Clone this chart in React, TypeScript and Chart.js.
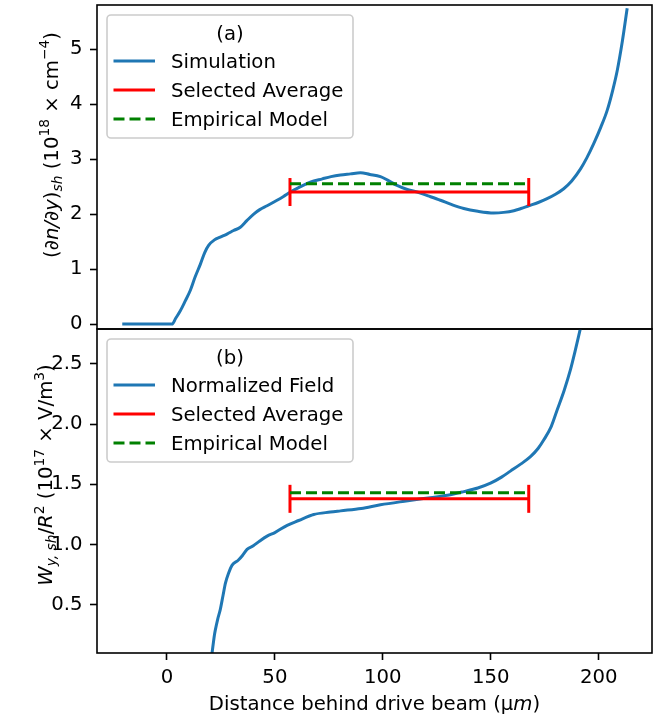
import React, { useEffect, useRef } from 'react';
import { Chart, registerables } from 'chart.js';

Chart.register(...registerables);

// ---------- data ----------
const simX = [-20.7, -10, 0, 2.4, 4, 6.2, 8.5, 10.8, 13, 15.5, 17.5, 19.3, 22, 24.7, 28, 30.9, 34, 37, 40.2, 43, 46.4, 51, 54, 57.2, 61, 66.4, 72, 76, 80.4, 85, 89.6, 94, 98.9, 102, 106.6, 111, 115.9, 121, 126.7, 132, 137.5, 144, 151.4, 156, 160.7, 164, 167.6, 172, 176.1, 180, 183.8, 187.5, 191.6, 194.5, 197.7, 201, 203.9, 206.5, 208.6, 211, 213.2];
const simY = [0, 0, 0, 0, 0.1, 0.24, 0.42, 0.61, 0.85, 1.09, 1.3, 1.43, 1.53, 1.58, 1.64, 1.7, 1.76, 1.88, 2.0, 2.08, 2.15, 2.25, 2.32, 2.4, 2.48, 2.58, 2.64, 2.68, 2.71, 2.73, 2.75, 2.72, 2.68, 2.62, 2.52, 2.45, 2.4, 2.33, 2.25, 2.17, 2.1, 2.05, 2.02, 2.03, 2.06, 2.1, 2.15, 2.21, 2.28, 2.36, 2.46, 2.6, 2.82, 3.02, 3.28, 3.58, 3.88, 4.25, 4.61, 5.15, 5.74];

const fieldX = [20.9, 22.0, 22.4, 23.5, 24.7, 26, 27.1, 28.5, 30.2, 33, 35, 37.1, 40, 43, 46.4, 50, 55.7, 61, 68, 75.7, 80.4, 90, 98.9, 110, 122, 130, 137.5, 144, 149.9, 155, 159.1, 164, 168.4, 172, 174.6, 178, 180.8, 184, 186.9, 189, 191.6];
const fieldY = [0.1, 0.25, 0.29, 0.38, 0.46, 0.58, 0.68, 0.76, 0.83, 0.87, 0.91, 0.96, 0.99, 1.03, 1.07, 1.1, 1.16, 1.2, 1.25, 1.27, 1.28, 1.3, 1.33, 1.36, 1.39, 1.41, 1.44, 1.47, 1.51, 1.56, 1.61, 1.67, 1.73, 1.8, 1.87, 1.98, 2.12, 2.28, 2.45, 2.6, 2.8];

const avgX = [57.0, 167.6];
const avgTop = 2.4;
const empTop = 2.55;
const avgBottom = 1.38;
const empBottom = 1.43;

const xRange = [-32.4, 224.7];
const xStep = 50;
const topYRange = [-0.09, 5.8];
const topYStep = 1;
const bottomYRange = [0.1, 2.79];
const bottomYStep = 0.5;

const topLabels = ['Simulation', 'Selected Average', 'Empirical Model'];
const bottomLabels = ['Normalized Field', 'Selected Average', 'Empirical Model'];
const topLegendTitle = '(a)';
const bottomLegendTitle = '(b)';

type Seg = { t: string; it?: boolean; sub?: boolean; sup?: boolean };
const topYTitle: Seg[] = [
  { t: '(' }, { t: '∂n/∂y', it: true }, { t: ')' }, { t: 'sh', it: true, sub: true },
  { t: ' (10' }, { t: '18', sup: true }, { t: ' × cm' }, { t: '−4', sup: true }, { t: ')' },
];
const bottomYTitle: Seg[] = [
  { t: 'W', it: true }, { t: 'y, sh', it: true, sub: true }, { t: '/' }, { t: 'R', it: true },
  { t: '2', sup: true }, { t: ' (10' }, { t: '17', sup: true }, { t: ' × V/m' }, { t: '3', sup: true }, { t: ')' },
];
const xTitle: Seg[] = [{ t: 'Distance behind drive beam (μ' }, { t: 'm', it: true }, { t: ')' }];

// ---------- styling ----------
const FAMILY = "'DejaVu Sans'";
const FS = 19.7;
const BLUE = '#1f77b4';
const RED = '#ff0000';
const GREEN = '#008000';

function segFont(s: Seg, size: number) {
  const sz = s.sub || s.sup ? size * 0.7 : size;
  return `${s.it ? 'italic ' : ''}${sz}px ${FAMILY}`;
}

function drawRich(ctx: CanvasRenderingContext2D, segs: Seg[]) {
  const size = FS;
  const widths = segs.map((s) => {
    ctx.font = segFont(s, size);
    return ctx.measureText(s.t).width;
  });
  const total = widths.reduce((a, b) => a + b, 0);
  let x = -total / 2;
  ctx.textAlign = 'left';
  ctx.textBaseline = 'alphabetic';
  ctx.fillStyle = '#000';
  segs.forEach((s, i) => {
    ctx.font = segFont(s, size);
    const dy = s.sup ? -0.42 * size : s.sub ? 0.22 * size : 0;
    ctx.fillText(s.t, x, dy);
    x += widths[i];
  });
}

function roundRectPath(ctx: CanvasRenderingContext2D, x: number, y: number, w: number, h: number, r: number) {
  ctx.beginPath();
  ctx.moveTo(x + r, y);
  ctx.lineTo(x + w - r, y);
  ctx.arcTo(x + w, y, x + w, y + r, r);
  ctx.lineTo(x + w, y + h - r);
  ctx.arcTo(x + w, y + h, x + w - r, y + h, r);
  ctx.lineTo(x + r, y + h);
  ctx.arcTo(x, y + h, x, y + h - r, r);
  ctx.lineTo(x, y + r);
  ctx.arcTo(x, y, x + r, y, r);
  ctx.closePath();
}

const decorPlugin = {
  id: 'decor',
  afterDraw(chart: any, _args: any, opts: any) {
    const ctx: CanvasRenderingContext2D = chart.ctx;
    const a = chart.chartArea;
    ctx.save();
    // frame
    ctx.strokeStyle = '#000';
    ctx.lineWidth = 1.6;
    ctx.setLineDash([]);
    ctx.strokeRect(a.left, a.top, a.right - a.left, a.bottom - a.top);

    // legend
    const bx = a.left + 10;
    const by = a.top + 10;
    const bw = 246;
    const bh = 123;
    roundRectPath(ctx, bx, by, bw, bh, 4);
    ctx.fillStyle = 'rgba(255,255,255,0.8)';
    ctx.fill();
    ctx.strokeStyle = '#cccccc';
    ctx.lineWidth = 1.6;
    ctx.stroke();
    const capHalf = 0.729 * FS / 2;
    ctx.fillStyle = '#000';
    ctx.font = `${FS}px ${FAMILY}`;
    ctx.textAlign = 'center';
    ctx.textBaseline = 'alphabetic';
    ctx.fillText(opts.legendTitle, bx + bw / 2, by + 18 + capHalf);
    chart.data.datasets.forEach((ds: any, i: number) => {
      const ry = by + 46 + i * 29;
      ctx.beginPath();
      ctx.strokeStyle = ds.borderColor;
      ctx.lineWidth = 3;
      ctx.setLineDash(ds.borderDash || []);
      ctx.moveTo(bx + 6.5, ry);
      ctx.lineTo(bx + 48, ry);
      ctx.stroke();
      ctx.setLineDash([]);
      ctx.fillStyle = '#000';
      ctx.font = `${FS}px ${FAMILY}`;
      ctx.textAlign = 'left';
      ctx.fillText(ds.label, bx + 64, ry + capHalf);
    });

    // y title
    ctx.save();
    ctx.translate(opts.yTitleX, (a.top + a.bottom) / 2 + opts.yTitleDy);
    ctx.rotate(-Math.PI / 2);
    drawRich(ctx, opts.yTitle);
    ctx.restore();

    // x title
    if (opts.xTitle) {
      ctx.save();
      ctx.translate((a.left + a.right) / 2, opts.xTitleY);
      drawRich(ctx, opts.xTitle);
      ctx.restore();
    }
    ctx.restore();
  },
};

function makeDatasets(xs: number[], ys: number[], labels: string[], avg: number, emp: number) {
  return [
    {
      label: labels[0],
      data: xs.map((x, i) => ({ x, y: ys[i] })),
      borderColor: BLUE,
      borderWidth: 3,
      pointRadius: 0,
      cubicInterpolationMode: 'monotone',
      clip: 0,
      order: 2,
    },
    {
      label: labels[1],
      data: avgX.map((x) => ({ x, y: avg })),
      borderColor: RED,
      borderWidth: 3,
      pointStyle: 'line',
      pointRotation: 90,
      pointRadius: 14,
      pointBorderWidth: 3,
      pointBorderColor: RED,
      pointBackgroundColor: RED,
      order: 1,
    },
    {
      label: labels[2],
      data: avgX.map((x) => ({ x, y: emp })),
      borderColor: GREEN,
      borderWidth: 3,
      borderDash: [11, 5],
      pointRadius: 0,
      order: 0,
    },
  ];
}

const tickGrid = {
  display: true,
  drawOnChartArea: false,
  drawTicks: true,
  tickLength: 7,
  tickWidth: 1.6,
  tickColor: '#000',
};

function zeroPad(s: any) {
  s.paddingTop = 0;
  s.paddingBottom = 0;
  s.paddingLeft = 0;
  s.paddingRight = 0;
}

function makeConfig(opts: {
  datasets: any[];
  yRange: number[];
  yStep: number;
  yFmt: (v: number) => string;
  showX: boolean;
  padding: any;
  decor: any;
}): any {
  return {
    type: 'line',
    data: { datasets: opts.datasets },
    plugins: [decorPlugin],
    options: {
      responsive: false,
      animation: false,
      events: [],
      layout: { padding: opts.padding, autoPadding: false },
      plugins: {
        legend: { display: false },
        tooltip: { enabled: false },
        decor: opts.decor,
      },
      scales: {
        x: {
          type: 'linear',
          min: xRange[0],
          max: xRange[1],
          display: opts.showX,
          grid: tickGrid,
          border: { display: false },
          ticks: {
            stepSize: xStep,
            includeBounds: false,
            color: '#000',
            padding: 6,
            maxRotation: 0,
            font: { family: 'DejaVu Sans', size: FS },
            callback: (v: number) => String(v),
          },
          afterFit: (s: any) => {
            s.height = opts.showX ? 64 : 0;
            zeroPad(s);
          },
        },
        y: {
          type: 'linear',
          min: opts.yRange[0],
          max: opts.yRange[1],
          grid: tickGrid,
          border: { display: false },
          ticks: {
            stepSize: opts.yStep,
            includeBounds: false,
            color: '#000',
            padding: 7.5,
            font: { family: 'DejaVu Sans', size: FS },
            callback: (v: number) => opts.yFmt(v),
          },
          afterFit: (s: any) => {
            s.width = 97;
            zeroPad(s);
          },
        },
      },
    },
  };
}

export default function App() {
  const topRef = useRef<HTMLCanvasElement>(null);
  const bottomRef = useRef<HTMLCanvasElement>(null);

  useEffect(() => {
    const top = new Chart(
      topRef.current as HTMLCanvasElement,
      makeConfig({
        datasets: makeDatasets(simX, simY, topLabels, avgTop, empTop),
        yRange: topYRange,
        yStep: topYStep,
        yFmt: (v) => String(v),
        showX: false,
        padding: { top: 5, right: 20, bottom: 11, left: 0 },
        decor: { legendTitle: topLegendTitle, yTitle: topYTitle, yTitleX: 57.5, yTitleDy: -22 },
      })
    );
    const bottom = new Chart(
      bottomRef.current as HTMLCanvasElement,
      makeConfig({
        datasets: makeDatasets(fieldX, fieldY, bottomLabels, avgBottom, empBottom),
        yRange: bottomYRange,
        yStep: bottomYStep,
        yFmt: (v) => v.toFixed(1),
        showX: true,
        padding: { top: 9, right: 20, bottom: 0, left: 0 },
        decor: {
          legendTitle: bottomLegendTitle,
          yTitle: bottomYTitle,
          yTitleX: 52,
          yTitleDy: -16,
          xTitle: xTitle,
          xTitleY: 390,
        },
      })
    );
    return () => {
      top.destroy();
      bottom.destroy();
    };
  }, []);

  return (
    <div style={{ position: 'absolute', left: 0, top: 0, width: 672, height: 717, background: '#fff' }}>
      <canvas ref={topRef} width={672} height={340} style={{ position: 'absolute', left: 0, top: 0, display: 'block' }} />
      <canvas ref={bottomRef} width={672} height={397} style={{ position: 'absolute', left: 0, top: 320, display: 'block' }} />
    </div>
  );
}
